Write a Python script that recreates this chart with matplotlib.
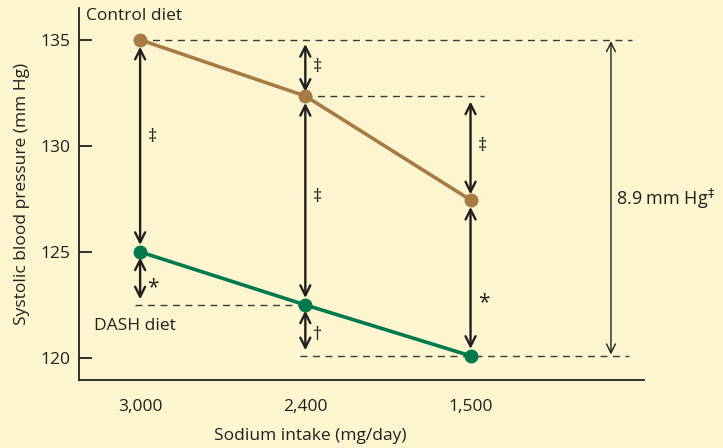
import matplotlib
matplotlib.use("Agg")
import matplotlib.pyplot as plt

plt.rcParams['font.family'] = ['Open Sans', 'DejaVu Sans']

categories = ["3,000", "2,400", "1,500"]
control = [135.0, 132.35, 127.45]
dash = [125.0, 122.5, 120.1]
yticks = [120, 125, 130, 135]

BG = '#fdf5d0'
BROWN = '#a67c45'
GREEN = '#007a4d'
DARK = '#231f20'

fig = plt.figure(figsize=(7.23, 4.48), dpi=100, facecolor=BG)
ax = fig.add_axes([79/723, 1-380/448, (644-79)/723, (380-8)/448])
ax.set_facecolor(BG)
x = list(range(len(categories)))

ax.set_xlim(-0.37, 3.05)
ax.set_ylim(118.96, 136.5)

for s in ['top', 'right']:
    ax.spines[s].set_visible(False)
for s in ['left', 'bottom']:
    ax.spines[s].set_color(DARK)
    ax.spines[s].set_linewidth(1.3)

ax.set_yticks(yticks)
ax.set_yticklabels([str(v) for v in yticks], fontsize=12.5, color=DARK)
ax.tick_params(axis='y', direction='in', length=9, width=1.3, color=DARK, pad=6)
ax.set_xticks(x)
ax.set_xticklabels(categories, fontsize=12.5, color=DARK)
ax.tick_params(axis='x', length=0, pad=14)

ax.set_ylabel("Systolic blood pressure (mm Hg)", fontsize=12.5, color=DARK, labelpad=8)
ax.set_xlabel("Sodium intake (mg/day)", fontsize=12.5, color=DARK, labelpad=14)
ax.xaxis.set_label_coords((310-79)/(644-79), -(436-380)/372)
ax.xaxis.label.set_va('center')

# dashed reference lines
dkw = dict(color='#3a3a3a', lw=1.0, ls=(0, (5, 4)), zorder=1)
ax.plot([x[0], 2.98], [control[0], control[0]], **dkw)
ax.plot([x[1], x[2] + 0.08], [control[1], control[1]], **dkw)
ax.plot([x[0] - 0.03, x[1]], [dash[1], dash[1]], **dkw)
ax.plot([x[1] - 0.03, 2.96], [dash[2], dash[2]], **dkw)

# data lines
ax.plot(x, control, color=BROWN, lw=2.6, marker='o', ms=9, zorder=4)
ax.plot(x, dash, color=GREEN, lw=2.6, marker='o', ms=9, zorder=4)

def darrow(xp, y1, y2, lw=1.7, ms=18, shrink=5):
    ax.annotate('', xy=(xp, y2), xytext=(xp, y1),
                arrowprops=dict(arrowstyle='<->', color=DARK, lw=lw,
                                mutation_scale=ms, shrinkA=shrink, shrinkB=shrink),
                zorder=3)

darrow(x[0], control[0], dash[0])
darrow(x[0], dash[0], dash[1], shrink=4)
darrow(x[1], control[0], control[1], shrink=3)
darrow(x[1], control[1], dash[1])
darrow(x[1], dash[1], dash[2], shrink=4)
darrow(x[2], control[1], control[2], shrink=4)
darrow(x[2], control[2], dash[2])
darrow(2.85, control[0], dash[2], lw=1.0, ms=16, shrink=1)

tkw = dict(fontsize=13, color=DARK, va='center', ha='left')
skw = dict(fontsize=15, color=DARK, va='center', ha='left')
off = 0.045
ax.text(x[0] + off, 130.4, '‡', **tkw)
ax.text(x[0] + off, 123.3, '*', **skw)
ax.text(x[1] + off, 133.7, '‡', **tkw)
ax.text(x[1] + off, 127.6, '‡', **tkw)
ax.text(x[1] + off, 121.1, '†', **tkw)
ax.text(x[2] + off, 130.0, '‡', **tkw)
ax.text(x[2] + off, 122.6, '*', **skw)
ax.text(2.88, 127.5, '8.9 mm Hg$^{‡}$', fontsize=13, color=DARK, va='center', ha='left')

ax.text(-0.33, 136.1, 'Control diet', fontsize=12.5, color=DARK, va='center', ha='left')
ax.text(-0.28, 121.5, 'DASH diet', fontsize=12.5, color=DARK, va='center', ha='left')

fig.savefig('out.png', dpi=100, facecolor=BG)
